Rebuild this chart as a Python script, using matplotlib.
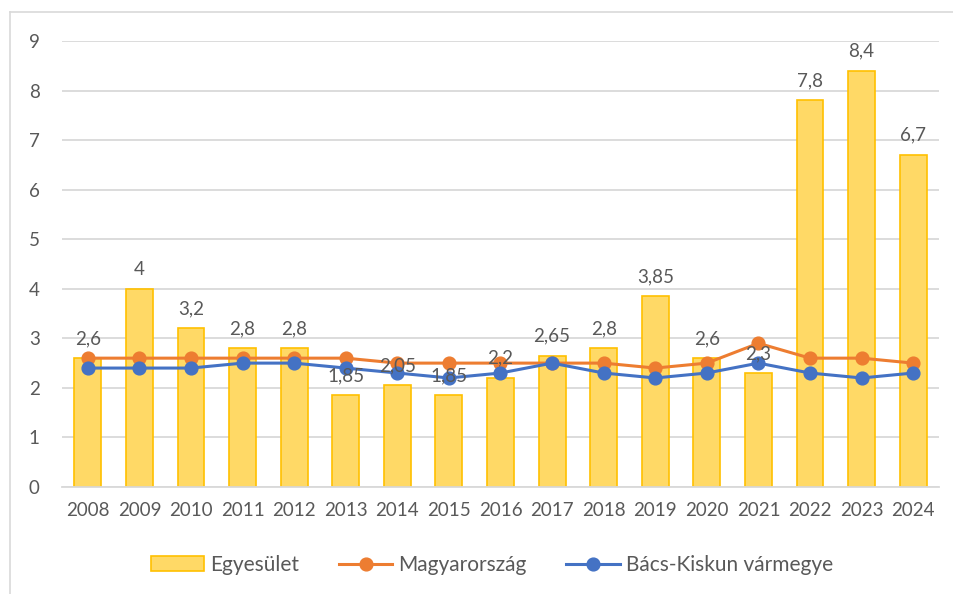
import matplotlib
matplotlib.use("Agg")
import matplotlib.pyplot as plt
import numpy as np

plt.rcParams['font.family'] = ['Lato', 'DejaVu Sans']

years = ['2008', '2009', '2010', '2011', '2012', '2013', '2014', '2015', '2016',
         '2017', '2018', '2019', '2020', '2021', '2022', '2023', '2024']
egyesulet = [2.6, 4, 3.2, 2.8, 2.8, 1.85, 2.05, 1.85, 2.2,
             2.65, 2.8, 3.85, 2.6, 2.3, 7.8, 8.4, 6.7]
magyarorszag = [2.6, 2.6, 2.6, 2.6, 2.6, 2.6, 2.5, 2.5, 2.5,
                2.5, 2.5, 2.4, 2.5, 2.9, 2.6, 2.6, 2.5]
bacs_kiskun = [2.4, 2.4, 2.4, 2.5, 2.5, 2.4, 2.3, 2.2, 2.3,
               2.5, 2.3, 2.2, 2.3, 2.5, 2.3, 2.2, 2.3]

grey_txt = '#595959'
grid_col = '#D9D9D9'

fig = plt.figure(figsize=(9.54, 5.94), dpi=100)
ax = fig.add_axes([62/954, 1-487/594, 877/954, 446/594])

x = np.arange(len(years))
bars = ax.bar(x, egyesulet, width=0.52, color='#FFD966', edgecolor='#FFC000',
              linewidth=1.2, label='Egyesület', zorder=2)
l1, = ax.plot(x, magyarorszag, color='#ED7D31', lw=2.2, marker='o', ms=9.2,
              label='Magyarország', zorder=3)
l2, = ax.plot(x, bacs_kiskun, color='#4472C4', lw=2.2, marker='o', ms=9.2,
              label='Bács-Kiskun vármegye', zorder=4)

for xi, v in zip(x, egyesulet):
    s = ('%g' % v).replace('.', ',')
    ax.annotate(s, (xi, v), xytext=(0, 8), textcoords='offset points',
                ha='center', va='bottom', fontsize=13.5, color=grey_txt, zorder=5)

ax.set_xlim(-0.5, len(years) - 0.5)
ax.set_ylim(0, 9)
ax.set_yticks(range(10))
ax.set_xticks(x)
ax.set_xticklabels(years)
ax.tick_params(axis='both', length=0, labelsize=13.5, labelcolor=grey_txt)
ax.tick_params(axis='x', pad=11)
ax.tick_params(axis='y', pad=16)
ax.grid(axis='y', color=grid_col, lw=1.3, zorder=0)
ax.set_axisbelow(True)
for sp in ['top', 'right', 'left']:
    ax.spines[sp].set_visible(False)
ax.spines['bottom'].set_color(grid_col)
ax.spines['bottom'].set_linewidth(1.3)

# chart frame (top and left edges visible)
fig.add_artist(plt.Line2D([10/954, 1], [1-12/594, 1-12/594], color=grid_col, lw=1.2))
fig.add_artist(plt.Line2D([10/954, 10/954], [0, 1-12/594], color=grid_col, lw=1.2))

fig.legend([bars, l1, l2], ['Egyesület', 'Magyarország', 'Bács-Kiskun vármegye'],
           loc='center', bbox_to_anchor=(492/954, 1-565/594), ncol=3, frameon=False,
           fontsize=15, labelcolor=grey_txt, handlelength=2.55, handletextpad=0.3,
           columnspacing=1.9)

fig.savefig('out.png', dpi=100)
